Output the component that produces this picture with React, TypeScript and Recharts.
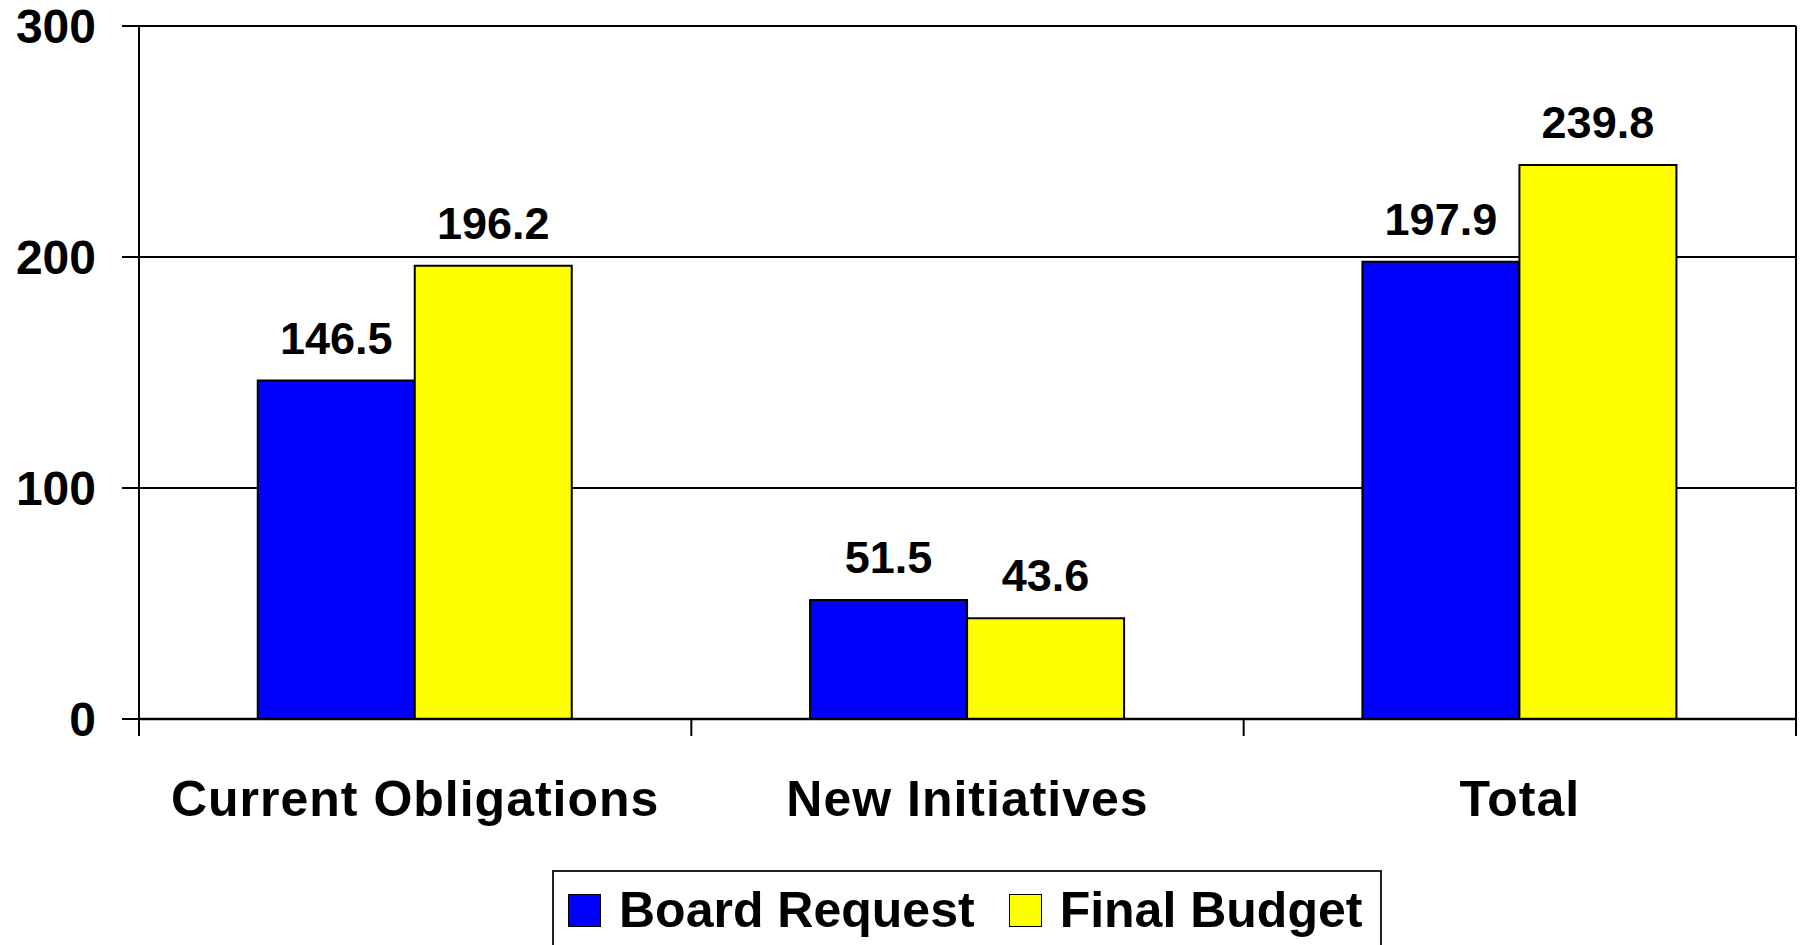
import React from 'react';
import { BarChart, Bar, XAxis, YAxis, CartesianGrid, Legend, LabelList } from 'recharts';

const categories = ['Current Obligations', 'New Initiatives', 'Total'];
const boardRequest = [146.5, 51.5, 197.9];
const finalBudget = [196.2, 43.6, 239.8];
const yTicks = [0, 100, 200, 300];

const data = categories.map((name, i) => ({
  name,
  board: boardRequest[i],
  final: finalBudget[i],
}));

const W = 1803;
const H = 945;
const LEFT = 139;
const RIGHT_MARGIN = 6;
const RIGHT_AXIS_W = 1;
const BAND = (W - LEFT - RIGHT_MARGIN - RIGHT_AXIS_W) / categories.length;
const FONT = '"Liberation Sans", Arial, sans-serif';

const XTick = (props: any) => {
  const { x, y, payload, index } = props;
  const last = index === categories.length - 1;
  return (
    <g>
      <line x1={x - BAND / 2} y1={y - 17} x2={x - BAND / 2} y2={y} stroke="#000" strokeWidth={2} />
      {last && <line x1={x + BAND / 2} y1={y - 17} x2={x + BAND / 2} y2={y} stroke="#000" strokeWidth={2} />}
      <text
        x={x}
        y={y + 80}
        textAnchor="middle"
        fill="#000"
        fontSize={50}
        fontWeight="bold"
        fontFamily={FONT}
        letterSpacing={1}
      >
        {payload.value}
      </text>
    </g>
  );
};

const LegendContent = (props: any) => {
  const items = props.payload || [];
  return (
    <div style={{ height: 75, position: 'relative', boxSizing: 'border-box' }}>
      <div
        style={{
          position: 'absolute',
          left: 0,
          top: 0,
          width: 830,
          height: 100,
          borderTop: '2px solid #222',
          borderLeft: '2px solid #222',
          borderRight: '2px solid #222',
          boxSizing: 'border-box',
          background: '#fff',
        }}
      >
        <div style={{ display: 'flex', alignItems: 'center', paddingLeft: 14, paddingTop: 13, height: 50 }}>
          {items.map((it: any, i: number) => (
            <div key={i} style={{ display: 'flex', alignItems: 'center', marginLeft: i === 0 ? 0 : 34 }}>
              <div
                style={{
                  width: 33,
                  height: 33,
                  background: it.color,
                  border: '1.5px solid #000',
                  boxSizing: 'border-box',
                  marginRight: 18,
                }}
              />
              <span
                style={{
                  fontFamily: FONT,
                  fontWeight: 'bold',
                  fontSize: 50,
                  lineHeight: '50px',
                  color: '#000',
                  whiteSpace: 'nowrap',
                }}
              >
                {it.value}
              </span>
            </div>
          ))}
        </div>
      </div>
    </div>
  );
};

export default function App() {
  return (
    <div style={{ position: 'absolute', left: 0, top: 0, width: W, height: H, background: '#fff' }}>
      <BarChart
        width={W}
        height={H}
        data={data}
        margin={{ top: 26, right: RIGHT_MARGIN, left: 0, bottom: 0 }}
        barCategoryGap="21.5%"
        barGap={0}
      >
        <CartesianGrid vertical={false} stroke="#000" strokeWidth={2} />
        <XAxis
          dataKey="name"
          height={151}
          tickSize={17}
          tickMargin={0}
          tickLine={false}
          axisLine={{ stroke: '#000', strokeWidth: 2.5 }}
          tick={<XTick />}
          interval={0}
        />
        <YAxis
          width={LEFT}
          domain={[0, 300]}
          ticks={yTicks}
          interval={0}
          tickSize={17}
          tickMargin={26}
          tickLine={{ stroke: '#000', strokeWidth: 2 }}
          axisLine={{ stroke: '#000', strokeWidth: 2 }}
          tick={{ fill: '#000', fontSize: 48, fontWeight: 'bold', fontFamily: FONT }}
        />
        <YAxis
          yAxisId="right"
          orientation="right"
          width={RIGHT_AXIS_W}
          domain={[0, 300]}
          tick={false}
          tickLine={false}
          axisLine={{ stroke: '#000', strokeWidth: 2 }}
        />
        <Legend
          content={<LegendContent />}
          wrapperStyle={{ left: 552, width: 830, bottom: 0 }}
        />
        <Bar dataKey="board" name="Board Request" fill="#0000FF" stroke="#000" strokeWidth={2} isAnimationActive={false}>
          <LabelList
            dataKey="board"
            position="top"
            offset={27}
            fill="#000"
            fontSize={45}
            fontWeight="bold"
            fontFamily={FONT}
          />
        </Bar>
        <Bar dataKey="final" name="Final Budget" fill="#FFFF00" stroke="#000" strokeWidth={2} isAnimationActive={false}>
          <LabelList
            dataKey="final"
            position="top"
            offset={27}
            fill="#000"
            fontSize={45}
            fontWeight="bold"
            fontFamily={FONT}
          />
        </Bar>
      </BarChart>
    </div>
  );
}
